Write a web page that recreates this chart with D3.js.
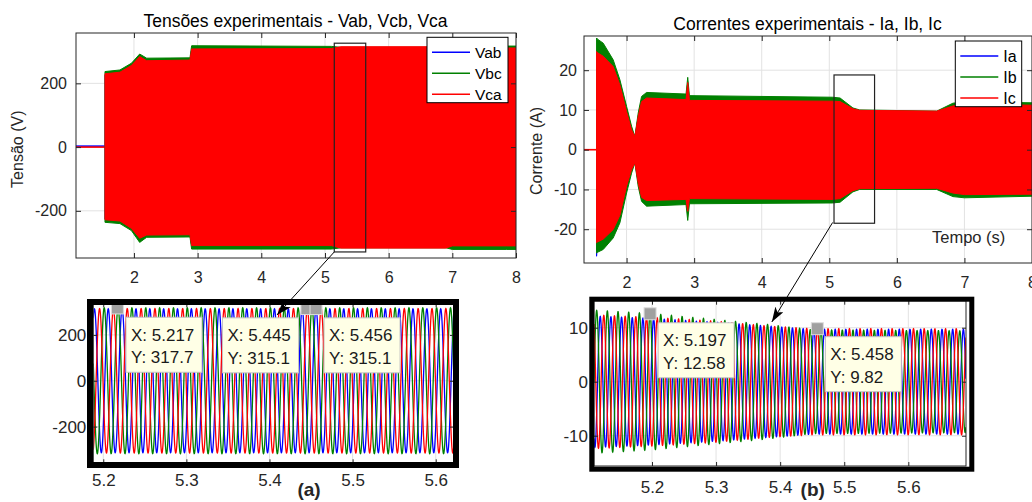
<!DOCTYPE html>
<html>
<head>
<meta charset="utf-8">
<script src="https://cdn.jsdelivr.net/npm/d3@7"></script>
<style>
  body { margin: 0; background: #fff; }
  svg { display: block; }
</style>
</head>
<body>
<svg width="1032" height="502"></svg>
<script>
const svg = d3.select('svg');
const FONT = '"Liberation Sans", Arial, Helvetica, sans-serif';
const BLUE = '#0000ff', GREEN = '#008000', RED = '#ff0000';

// ---- top left: voltage envelopes (V)
const voltTime  = [1.545, 1.78, 1.96, 2.09, 2.2, 2.88, 2.906, 5.1, 5.25, 6.9, 7.0, 7.85, 8.0];
const vabUpper  = [226, 231, 252, 280, 268, 270, 305, 306, 312, 312, 310, 308, 308];
const vabLower  = [-226, -230, -252, -283, -273, -272, -306, -306, -314, -314, -308, -308, -308];
const vbcUpper  = [237, 242, 263, 292, 279, 280, 318, 316, 313, 313, 313, 317, 317];
const vbcLower  = [-236, -240, -262, -299, -283, -282, -320, -320, -316, -316, -321, -321, -321];
const vcaUpper  = [230, 235, 256, 284, 271, 273, 308, 309, 315, 315, 315, 311, 311];
const vcaLower  = [-228, -232, -255, -286, -276, -275, -309, -309, -317, -317, -310, -310, -310];
const voltPreTime = [1.09, 1.545];
const vabPre = [3, 3];
const vcaPre = [0, 0];

// ---- top right: current envelopes (A)
const currTime = [1.556, 1.57, 1.654, 1.802, 1.901, 2.0, 2.074, 2.123, 2.172, 2.222, 2.296, 2.88, 2.905, 2.93, 5.05, 5.16, 5.35, 5.45, 6.59, 6.83, 7.0, 8.0];
const iaUpper = [23.5, 23.0, 22.5, 20.0, 15.8, 9.2, 4.8, 3.1, 8.0, 11.8, 12.6, 12.3, 16.0, 12.0, 11.9, 11.8, 10.0, 9.7, 9.5, 10.8, 11.2, 11.0];
const iaLower = [-26.8, -23.0, -22.0, -19.8, -16.0, -9.0, -4.8, -3.1, -8.0, -11.8, -12.6, -12.3, -15.0, -12.0, -12.2, -12.0, -10.0, -9.6, -9.5, -10.7, -11.1, -11.0];
const ibUpper = [28.1, 27.8, 26.8, 22.6, 17.6, 10.9, 5.9, 3.3, 9.2, 13.4, 14.4, 14.0, 18.2, 13.6, 13.2, 13.0, 10.5, 10.0, 9.7, 11.7, 12.0, 11.8];
const ibLower = [-26.0, -25.8, -25.1, -22.2, -18.4, -10.9, -5.9, -3.3, -9.2, -13.0, -14.2, -13.8, -17.8, -13.6, -13.4, -13.2, -10.6, -10.0, -10.0, -11.8, -12.1, -11.7];
const icUpper = [24.7, 24.4, 23.5, 20.9, 16.3, 9.6, 5.0, 3.3, 8.4, 12.1, 13.0, 12.6, 16.9, 12.4, 12.2, 12.1, 10.3, 9.9, 9.7, 11.0, 11.4, 11.2];
const icLower = [-23.4, -23.2, -22.5, -20.1, -16.5, -9.2, -5.0, -3.3, -8.4, -12.0, -12.8, -12.5, -15.5, -12.3, -12.5, -12.3, -10.3, -9.8, -9.7, -10.9, -11.3, -11.2];
const currPreTime = [1.37, 1.556];
const icPre = [0, 0];

// ---- zoom (a): 60 Hz voltages, amplitude and peak instants
const gridFreq = 60;
const zoomVoltTime = [5.18, 5.63];
const zoomVab = [314, 314];
const zoomVbc = [318, 318];
const zoomVca = [315, 315];
const peakVab = 5.456, peakVca = 5.4622, peakVbc = 5.2178;
const tipsA = [{ x: 5.217, y: 317.7 }, { x: 5.445, y: 315.1 }, { x: 5.456, y: 315.1 }];

// ---- zoom (b): currents
const zoomCurrTime = [5.10, 5.20, 5.30, 5.38, 5.45, 5.70];
const zoomIa = [12.2, 11.7, 11.0, 10.3, 9.7, 9.7];
const zoomIb = [13.3, 12.6, 11.5, 10.6, 9.6, 9.4];
const zoomIc = [12.4, 11.9, 11.2, 10.3, 9.82, 9.8];
const peakIb = 5.197, peakIa = 5.197 + 1 / 180, peakIc = 5.197 + 2 / 180;
const tipsB = [{ x: 5.197, y: 12.58 }, { x: 5.458, y: 9.82 }];

const topXTicks = [2, 3, 4, 5, 6, 7, 8];
const voltYTicks = [-200, 0, 200];
const currYTicks = [-20, -10, 0, 10, 20];
const zoomXTicks = [5.2, 5.3, 5.4, 5.5, 5.6];
const zoomVoltYTicks = [-200, 0, 200];
const zoomCurrYTicks = [-10, 0, 10];

// builds an axes group with grid and clipped plot layer
function panel(cfg) {
  const g = svg.append('g').attr('transform', `translate(${cfg.left},${cfg.top})`);
  const x = d3.scaleLinear().domain(cfg.xDomain).range([0, cfg.w]);
  const y = d3.scaleLinear().domain(cfg.yDomain).range([cfg.h, 0]);
  g.append('rect').attr('width', cfg.w).attr('height', cfg.h).attr('fill', '#fff');
  g.append('clipPath').attr('id', 'clip-' + cfg.id)
    .append('rect').attr('width', cfg.w).attr('height', cfg.h);
  const grid = g.append('g').attr('stroke', '#e2e2e2').attr('stroke-width', 1);
  grid.selectAll('.gx').data(cfg.xTicks).join('line').attr('class', 'gx')
    .attr('x1', d => x(d)).attr('x2', d => x(d)).attr('y1', 0).attr('y2', cfg.h);
  grid.selectAll('.gy').data(cfg.yTicks).join('line').attr('class', 'gy')
    .attr('y1', d => y(d)).attr('y2', d => y(d)).attr('x1', 0).attr('x2', cfg.w);
  const plot = g.append('g').attr('clip-path', `url(#clip-${cfg.id})`);
  return { g, x, y, plot, cfg };
}

function drawAxes(p) {
  const { g, x, y, cfg } = p;
  const fx = cfg.xFormat || (d => String(d));
  g.append('g').attr('transform', `translate(0,${cfg.h})`)
    .call(d3.axisBottom(x).tickValues(cfg.xTicks).tickSize(-cfg.tick).tickPadding(cfg.xPad).tickFormat(fx));
  g.append('g')
    .call(d3.axisLeft(y).tickValues(cfg.yTicks).tickSize(-cfg.tick).tickPadding(cfg.yPad).tickFormat(d => String(d)));
  g.append('g')
    .call(d3.axisTop(x).tickValues(cfg.xTicks).tickSize(-cfg.tick).tickFormat(() => ''));
  g.append('g').attr('transform', `translate(${cfg.w},0)`)
    .call(d3.axisRight(y).tickValues(cfg.yTicks).tickSize(-cfg.tick).tickFormat(() => ''));
  g.selectAll('.domain').remove();
  g.selectAll('.tick line').attr('stroke', '#262626');
  g.selectAll('.tick text').attr('fill', '#262626')
    .style('font-size', cfg.font + 'px').style('font-family', FONT);
  g.append('rect').attr('width', cfg.w).attr('height', cfg.h)
    .attr('fill', 'none').attr('stroke', '#262626').attr('stroke-width', 1);
}

function envelope(p, times, upper, lower, color) {
  const rows = times.map((t, i) => ({ t, hi: upper[i], lo: lower[i] }));
  p.plot.append('path').datum(rows)
    .attr('d', d3.area().x(d => p.x(d.t)).y0(d => p.y(d.lo)).y1(d => p.y(d.hi)))
    .attr('fill', color).attr('stroke', color).attr('stroke-width', 1);
}

function flat(p, times, vals, color) {
  p.plot.append('path').datum(times.map((t, i) => [t, vals[i]]))
    .attr('d', d3.line().x(d => p.x(d[0])).y(d => p.y(d[1])))
    .attr('fill', 'none').attr('stroke', color).attr('stroke-width', 1.6);
}

// 60 Hz trace rebuilt from the amplitude read at a few instants and one peak instant
function trace(p, times, amps, peak, color) {
  const amp = d3.scaleLinear().domain(times).range(amps).clamp(true);
  const [t0, t1] = p.x.domain();
  const pts = [];
  for (let t = t0; t <= t1; t += 0.0002) {
    pts.push([t, amp(t) * Math.cos(2 * Math.PI * gridFreq * (t - peak))]);
  }
  p.plot.append('path').datum(pts)
    .attr('d', d3.line().x(d => p.x(d[0])).y(d => p.y(d[1])))
    .attr('fill', 'none').attr('stroke', color).attr('stroke-width', 1.3);
}

function legend(x0, y0, w, h, rows, font) {
  const lg = svg.append('g');
  lg.append('rect').attr('x', x0).attr('y', y0).attr('width', w).attr('height', h)
    .attr('fill', '#fff').attr('stroke', '#000').attr('stroke-width', 1);
  rows.forEach((r, i) => {
    const yy = y0 + 15 + i * 21;
    lg.append('line').attr('x1', x0 + 5).attr('x2', x0 + 43).attr('y1', yy).attr('y2', yy)
      .attr('stroke', r.color).attr('stroke-width', 1.6);
    lg.append('text').attr('x', x0 + 48).attr('y', yy + font * 0.36).text(r.name)
      .attr('fill', '#000').style('font-size', font + 'px').style('font-family', FONT);
  });
}

const fmtTip = d3.format('.4~g');
function dataTip(p, tip, dx, dy) {
  const mx = p.cfg.left + p.x(tip.x), my = p.cfg.top + p.y(tip.y);
  const bx = mx + dx, by = my + dy;
  svg.append('rect').attr('x', bx).attr('y', by).attr('width', 76).attr('height', 55)
    .attr('fill', '#ffffe6').attr('stroke', '#c4c4c4').attr('stroke-width', 1);
  [['X: ', tip.x], ['Y: ', tip.y]].forEach((l, i) => {
    svg.append('text').attr('x', bx + 5).attr('y', by + 23.5 + i * 22.5)
      .text(l[0] + fmtTip(l[1])).attr('fill', '#1a1a1a')
      .style('font-size', '17px').style('font-family', FONT);
  });
  svg.append('rect').attr('x', mx - 6).attr('y', my - 6).attr('width', 12).attr('height', 12)
    .attr('fill', '#a0a0a0').attr('stroke', '#dcdcdc').attr('stroke-width', 1);
}

// ---------- top left
const pV = panel({ id: 'v', left: 76, top: 33, w: 440, h: 225, xDomain: [1.09, 8], yDomain: [-348, 358],
  xTicks: topXTicks, yTicks: voltYTicks, tick: 5, xPad: 14, yPad: 9, font: 16 });
flat(pV, voltPreTime, vabPre, BLUE);
flat(pV, voltPreTime, vcaPre, RED);
envelope(pV, voltTime, vabUpper, vabLower, BLUE);
envelope(pV, voltTime, vbcUpper, vbcLower, GREEN);
envelope(pV, voltTime, vcaUpper, vcaLower, RED);
drawAxes(pV);

// ---------- top right
const pI = panel({ id: 'i', left: 584, top: 36, w: 448, h: 227, xDomain: [1.37, 8], yDomain: [-28.5, 28.6],
  xTicks: topXTicks, yTicks: currYTicks, tick: 5, xPad: 14, yPad: 7, font: 16 });
flat(pI, currPreTime, icPre, RED);
envelope(pI, currTime, iaUpper, iaLower, BLUE);
envelope(pI, currTime, ibUpper, ibLower, GREEN);
envelope(pI, currTime, icUpper, icLower, RED);
drawAxes(pI);

// ---------- bottom left (a)
const pA = panel({ id: 'a', left: 93.3, top: 303.3, w: 360.7, h: 160, xDomain: [5.188, 5.622], yDomain: [-360, 338],
  xTicks: zoomXTicks, yTicks: zoomVoltYTicks, tick: 4, xPad: 11, yPad: 7, font: 17, xFormat: d3.format('.1f') });
trace(pA, zoomVoltTime, zoomVab, peakVab, BLUE);
trace(pA, zoomVoltTime, zoomVbc, peakVbc, GREEN);
trace(pA, zoomVoltTime, zoomVca, peakVca, RED);
drawAxes(pA);

// ---------- bottom right (b)
const pB = panel({ id: 'b', left: 594, top: 300.7, w: 372, h: 165.3, xDomain: [5.1095, 5.690], yDomain: [-15.6, 15.0],
  xTicks: zoomXTicks, yTicks: zoomCurrYTicks, tick: 4, xPad: 15, yPad: 6, font: 17, xFormat: d3.format('.1f') });
trace(pB, zoomCurrTime, zoomIa, peakIa, BLUE);
trace(pB, zoomCurrTime, zoomIb, peakIb, GREEN);
trace(pB, zoomCurrTime, zoomIc, peakIc, RED);
drawAxes(pB);

// data tips
dataTip(pA, tipsA[0], 8.6, 9.3);
dataTip(pA, tipsA[1], -84.4, 9.3);
dataTip(pA, tipsA[2], 8, 9.3);
dataTip(pB, tipsB[0], 8, 9);
dataTip(pB, tipsB[1], 8, 8);

// thick frames round the zooms
svg.append('rect').attr('x', 90).attr('y', 302).attr('width', 366).attr('height', 163)
  .attr('fill', 'none').attr('stroke', '#000').attr('stroke-width', 6);
svg.append('rect').attr('x', 591.8).attr('y', 299.2).attr('width', 380).attr('height', 170)
  .attr('fill', 'none').attr('stroke', '#000').attr('stroke-width', 5);

// zoom windows on the top plots
function zoomBox(p, x0, x1, y0, y1) {
  p.g.append('rect').attr('x', p.x(x0)).attr('y', p.y(y0))
    .attr('width', p.x(x1) - p.x(x0)).attr('height', p.y(y1) - p.y(y0))
    .attr('fill', 'none').attr('stroke', '#222').attr('stroke-width', 1.2);
}
zoomBox(pV, 5.146, 5.64, 326, -329);
zoomBox(pI, 5.07, 5.67, 18.8, -18.5);

// arrows
svg.append('defs').append('marker').attr('id', 'head')
  .attr('markerUnits', 'userSpaceOnUse').attr('markerWidth', 16).attr('markerHeight', 10)
  .attr('refX', 15).attr('refY', 5).attr('orient', 'auto')
  .append('path').attr('d', 'M0,0 L15,5 L0,10 L4,5 Z').attr('fill', '#000');
function arrow(pFrom, fx, fy, pTo, tx, ty) {
  svg.append('line')
    .attr('x1', pFrom.cfg.left + pFrom.x(fx)).attr('y1', pFrom.cfg.top + pFrom.y(fy))
    .attr('x2', pTo.cfg.left + pTo.x(tx)).attr('y2', pTo.cfg.top + pTo.y(ty))
    .attr('stroke', '#000').attr('stroke-width', 1).attr('marker-end', 'url(#head)');
}
arrow(pV, 5.146, -329, pA, 5.409, 287);
arrow(pI, 5.05, -18.3, pB, 5.387, 11.06);

// legends
legend(427, 37.3, 81, 65.4, [{ name: 'Vab', color: BLUE }, { name: 'Vbc', color: GREEN }, { name: 'Vca', color: RED }], 15.5);
legend(955.3, 41, 66.4, 65.7, [{ name: 'Ia', color: BLUE }, { name: 'Ib', color: GREEN }, { name: 'Ic', color: RED }], 16);

// titles and labels
function label(x, y, txt, size, opts = {}) {
  const t = svg.append('text').attr('x', x).attr('y', y).text(txt)
    .attr('text-anchor', 'middle').attr('fill', opts.fill || '#000')
    .style('font-size', size + 'px').style('font-family', FONT);
  if (opts.bold) t.style('font-weight', 'bold');
  if (opts.rotate) t.attr('transform', `rotate(-90,${x},${y})`);
  return t;
}
label(295.5, 27.3, 'Tensões experimentais - Vab, Vcb, Vca', 17.5);
label(807.5, 30, 'Correntes experimentais - Ia, Ib, Ic', 17.5);
label(22.7, 149.2, 'Tensão (V)', 16, { rotate: true, fill: '#262626' });
label(541.5, 151, 'Corrente (A)', 16, { rotate: true, fill: '#262626' });
label(968.7, 243, 'Tempo (s)', 16.5, { fill: '#262626' });
label(309, 496, '(a)', 19, { bold: true, fill: '#262626' });
label(812.7, 496, '(b)', 19, { bold: true, fill: '#262626' });
</script>
</body>
</html>
